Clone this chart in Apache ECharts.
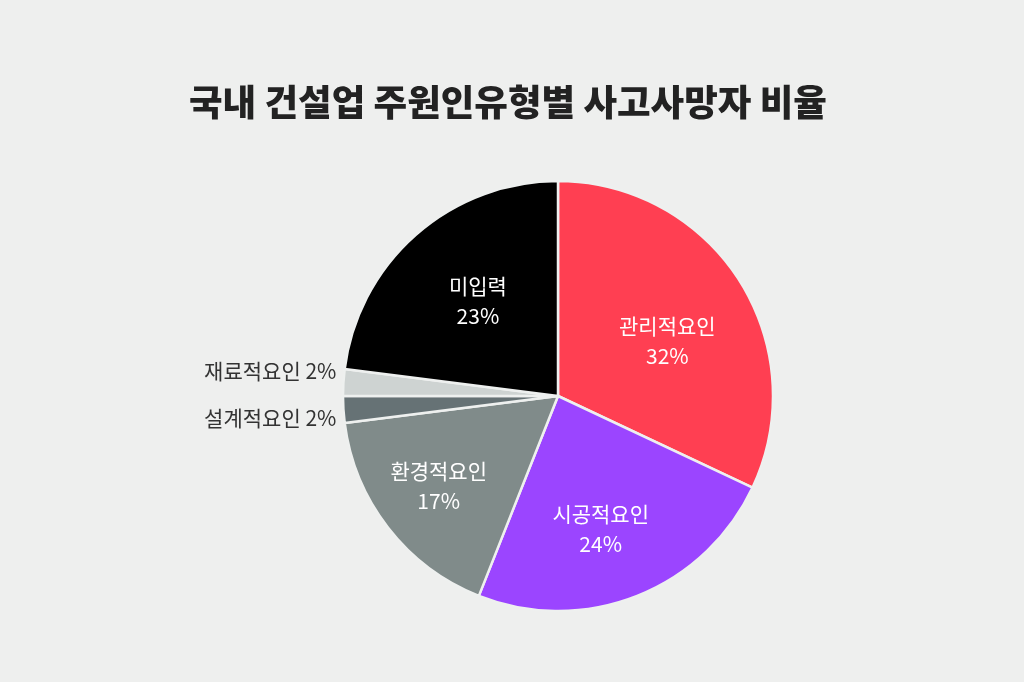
<!DOCTYPE html>
<html>
<head>
<meta charset="utf-8">
<script src="https://cdn.jsdelivr.net/npm/echarts@6/dist/echarts.min.js"></script>
<style>
  html, body { margin: 0; padding: 0; background: #eeefee; }
  #chart { width: 1024px; height: 682px; }
</style>
</head>
<body>
<div id="chart"></div>
<script>
// 데이터
var names = ['관리적요인', '시공적요인', '환경적요인', '설계적요인', '재료적요인', '미입력'];
var values = [32, 24, 17, 2, 2, 23];
var colors = ['#ff3f52', '#9b45ff', '#808b8a', '#667275', '#ced3d2', '#000000'];

// 라벨 위치 조정 (안쪽 / 바깥쪽)
var offsets = [[16, 4], [2, 30], [-32, 22], [-2, 9], [-2, -11], [-7, -12]];
var outside = [false, false, false, true, true, false];

var seriesData = [];
for (var i = 0; i < names.length; i++) {
    var item = {
        name: names[i],
        value: values[i],
        itemStyle: { color: colors[i] }
    };
    if (outside[i]) {
        item.label = {
            position: 'outside',
            formatter: '{b} {c}%',
            color: '#333333',
            offset: offsets[i]
        };
        item.labelLine = { show: false, length: 0, length2: 0 };
    } else {
        item.label = { offset: offsets[i] };
    }
    seriesData.push(item);
}

var myChart = echarts.init(document.getElementById('chart'));
var option = {
    backgroundColor: '#eeefee',
    animation: false,
    title: {
        text: '국내 건설업 주원인유형별 사고사망자 비율',
        left: 184,
        top: 79,
        textStyle: {
            fontFamily: 'Noto Sans CJK KR',
            fontWeight: 900,
            fontSize: 36.5,
            color: '#222222'
        }
    },
    series: [{
        type: 'pie',
        center: [558, 396],
        radius: 215,
        startAngle: 90,
        clockwise: true,
        avoidLabelOverlap: false,
        itemStyle: {
            borderColor: '#eef0ef',
            borderWidth: 2.5
        },
        label: {
            show: true,
            position: 'inside',
            formatter: '{b}\n{c}%',
            color: '#ffffff',
            fontFamily: 'Noto Sans CJK KR',
            fontSize: 21,
            lineHeight: 30
        },
        emphasis: { disabled: true },
        data: seriesData
    }]
};
myChart.setOption(option);
</script>
</body>
</html>
